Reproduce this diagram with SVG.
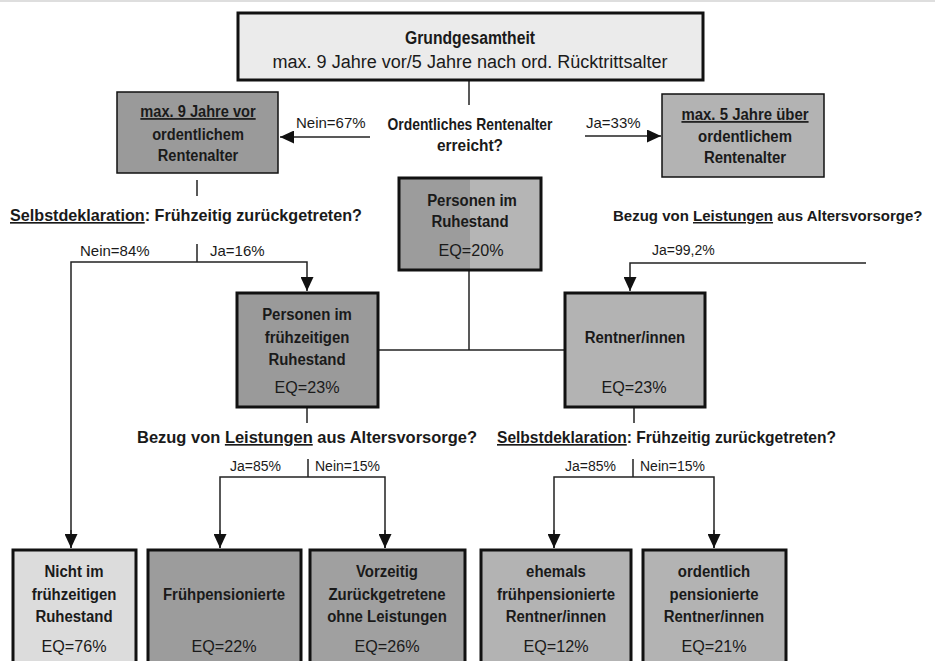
<svg xmlns="http://www.w3.org/2000/svg" width="935" height="661" viewBox="0 0 935 661">
<style>
  text { font-family: "Liberation Sans", Arial, sans-serif; fill: #1a1a1a; }
  .b { font-weight: bold; font-size: 17px; text-anchor: middle; }
  .q { font-weight: bold; font-size: 16.5px; }
  .q15 { font-weight: bold; font-size: 15px; }
  .eq { font-size: 17px; text-anchor: middle; }
  .lbl { font-size: 15px; }
  .sm { font-size: 14px; }
  .box { stroke: #111; stroke-width: 3; }
  .thin { stroke: #111; stroke-width: 1.5; }
  .c { fill: none; stroke: #222; stroke-width: 1.5; }
  .u { text-decoration: underline; }
</style>
<defs>
  <marker id="ah" viewBox="0 0 14 13" refX="14" refY="6.5" markerWidth="14" markerHeight="13" orient="auto" markerUnits="userSpaceOnUse">
    <path d="M0,0 L14,6.5 L0,13 z" fill="#111"/>
  </marker>
  <linearGradient id="split" x1="0" y1="0" x2="1" y2="0">
    <stop offset="0" stop-color="#9c9c9c"/>
    <stop offset="0.5" stop-color="#9c9c9c"/>
    <stop offset="0.5" stop-color="#b5b5b5"/>
    <stop offset="1" stop-color="#b5b5b5"/>
  </linearGradient>
</defs>

<rect x="0" y="0" width="935" height="2" fill="#dedede"/>

<g id="connectors">
  <line class="c" x1="469" y1="80" x2="469" y2="105"/>
  <line class="c" x1="370" y1="137" x2="280" y2="137" marker-end="url(#ah)"/>
  <line class="c" x1="585" y1="136" x2="661" y2="136" marker-end="url(#ah)"/>
  <line class="c" x1="197" y1="180" x2="197" y2="196"/>
  <line class="c" x1="197" y1="244" x2="197" y2="262"/>
  <path class="c" d="M71,548 V262 H307 V291" marker-end="url(#ah)"/>
  <line class="c" x1="71" y1="530" x2="71" y2="548" marker-end="url(#ah)"/>
  <path class="c" d="M866,263 H630 V291" marker-end="url(#ah)"/>
  <line class="c" x1="469" y1="270" x2="469" y2="350"/>
  <line class="c" x1="378" y1="350" x2="565" y2="350"/>
  <line class="c" x1="307" y1="407" x2="307" y2="423"/>
  <line class="c" x1="308" y1="459" x2="308" y2="477"/>
  <path class="c" d="M220,548 V477 H385 V548"/>
  <line class="c" x1="220" y1="530" x2="220" y2="548" marker-end="url(#ah)"/>
  <line class="c" x1="385" y1="530" x2="385" y2="548" marker-end="url(#ah)"/>
  <line class="c" x1="634" y1="407" x2="634" y2="423"/>
  <line class="c" x1="633" y1="459" x2="633" y2="477"/>
  <path class="c" d="M554,548 V477 H714 V548"/>
  <line class="c" x1="554" y1="530" x2="554" y2="548" marker-end="url(#ah)"/>
  <line class="c" x1="714" y1="530" x2="714" y2="548" marker-end="url(#ah)"/>
</g>

<g id="labels">
  <text class="lbl" x="296" y="128">Nein=67%</text>
  <text class="lbl" x="586" y="128">Ja=33%</text>
  <text class="q" x="470" y="130" text-anchor="middle" textLength="165" lengthAdjust="spacingAndGlyphs">Ordentliches Rentenalter</text>
  <text class="q" x="470" y="151" text-anchor="middle" textLength="66" lengthAdjust="spacingAndGlyphs">erreicht?</text>
  <text class="q" x="10" y="221" textLength="352" lengthAdjust="spacingAndGlyphs"><tspan class="u">Selbstdeklaration</tspan>: Frühzeitig zurückgetreten?</text>
  <text class="q15" x="613" y="221">Bezug von <tspan class="u">Leistungen</tspan> aus Altersvorsorge?</text>
  <text class="lbl" x="80" y="256">Nein=84%</text>
  <text class="lbl" x="210" y="256">Ja=16%</text>
  <text class="sm" x="652" y="255">Ja=99,2%</text>
  <text class="q" x="137" y="443" textLength="340" lengthAdjust="spacingAndGlyphs">Bezug von <tspan class="u">Leistungen</tspan> aus Altersvorsorge?</text>
  <text class="q" x="497" y="443" textLength="339" lengthAdjust="spacingAndGlyphs"><tspan class="u">Selbstdeklaration</tspan>: Frühzeitig zurückgetreten?</text>
  <text class="sm" x="230" y="471">Ja=85%</text>
  <text class="sm" x="315" y="471">Nein=15%</text>
  <text class="sm" x="565" y="471">Ja=85%</text>
  <text class="sm" x="640" y="471">Nein=15%</text>
</g>

<g id="grundgesamtheit">
  <rect class="box" x="238" y="13" width="465" height="67" fill="#ebebeb"/>
  <text font-weight="bold" font-size="18" x="470" y="44" text-anchor="middle" textLength="130" lengthAdjust="spacingAndGlyphs">Grundgesamtheit</text>
  <text font-size="18" x="470" y="68" text-anchor="middle" textLength="395" lengthAdjust="spacingAndGlyphs">max. 9 Jahre vor/5 Jahre nach ord. Rücktrittsalter</text>
</g>

<g id="max9">
  <rect class="thin" x="117" y="92" width="161" height="81" fill="#9a9a9a"/>
  <text class="b" transform="translate(198 117) scale(0.86 1)"><tspan class="u">max. 9 Jahre vor</tspan></text>
  <text class="b" transform="translate(198 140) scale(0.86 1)">ordentlichem</text>
  <text class="b" transform="translate(198 161) scale(0.86 1)">Rentenalter</text>
</g>

<g id="max5">
  <rect class="thin" x="662" y="94" width="162" height="83" fill="#b3b3b3"/>
  <text class="b" transform="translate(745 120) scale(0.88 1)"><tspan class="u">max. 5 Jahre über</tspan></text>
  <text class="b" transform="translate(745 142) scale(0.88 1)">ordentlichem</text>
  <text class="b" transform="translate(745 163) scale(0.88 1)">Rentenalter</text>
</g>

<g id="ruhestand">
  <rect class="box" x="399" y="178" width="142" height="92" fill="url(#split)"/>
  <text class="b" transform="translate(472 206) scale(0.88 1)">Personen im</text>
  <text class="b" transform="translate(470 227) scale(0.88 1)">Ruhestand</text>
  <text class="eq" transform="translate(471 256) scale(0.95 1)">EQ=20%</text>
</g>

<g id="fruehzeitig">
  <rect class="box" x="237" y="293" width="141" height="114" fill="#9a9a9a"/>
  <text class="b" transform="translate(307 320) scale(0.88 1)">Personen im</text>
  <text class="b" transform="translate(307 343) scale(0.88 1)">frühzeitigen</text>
  <text class="b" transform="translate(307 365) scale(0.88 1)">Ruhestand</text>
  <text class="eq" transform="translate(307 393) scale(0.95 1)">EQ=23%</text>
</g>

<g id="rentner">
  <rect class="box" x="565" y="293" width="140" height="114" fill="#b3b3b3"/>
  <text class="b" transform="translate(635 343) scale(0.88 1)">Rentner/innen</text>
  <text class="eq" transform="translate(634 393) scale(0.95 1)">EQ=23%</text>
</g>

<g id="nicht">
  <rect class="box" x="13" y="550" width="123" height="115" fill="#dcdcdc"/>
  <text class="b" transform="translate(74 577) scale(0.88 1)">Nicht im</text>
  <text class="b" transform="translate(74 600) scale(0.88 1)">frühzeitigen</text>
  <text class="b" transform="translate(74 622) scale(0.88 1)">Ruhestand</text>
  <text class="eq" transform="translate(74 652) scale(0.95 1)">EQ=76%</text>
</g>

<g id="fruehpensionierte">
  <rect class="box" x="148" y="550" width="153" height="115" fill="#9c9c9c"/>
  <text class="b" transform="translate(224 600) scale(0.88 1)">Frühpensionierte</text>
  <text class="eq" transform="translate(224 652) scale(0.95 1)">EQ=22%</text>
</g>

<g id="vorzeitig">
  <rect class="box" x="310" y="550" width="155" height="115" fill="#a0a0a0"/>
  <text class="b" transform="translate(387 577) scale(0.88 1)">Vorzeitig</text>
  <text class="b" transform="translate(387 600) scale(0.88 1)">Zurückgetretene</text>
  <text class="b" transform="translate(387 622) scale(0.88 1)">ohne Leistungen</text>
  <text class="eq" transform="translate(387 652) scale(0.95 1)">EQ=26%</text>
</g>

<g id="ehemals">
  <rect class="box" x="481" y="550" width="150" height="115" fill="#b3b3b3"/>
  <text class="b" transform="translate(556 577) scale(0.88 1)">ehemals</text>
  <text class="b" transform="translate(556 600) scale(0.88 1)">frühpensionierte</text>
  <text class="b" transform="translate(556 622) scale(0.88 1)">Rentner/innen</text>
  <text class="eq" transform="translate(556 652) scale(0.95 1)">EQ=12%</text>
</g>

<g id="ordentlich">
  <rect class="box" x="643" y="550" width="143" height="115" fill="#b3b3b3"/>
  <text class="b" transform="translate(714 577) scale(0.88 1)">ordentlich</text>
  <text class="b" transform="translate(714 600) scale(0.88 1)">pensionierte</text>
  <text class="b" transform="translate(714 622) scale(0.88 1)">Rentner/innen</text>
  <text class="eq" transform="translate(714 652) scale(0.95 1)">EQ=21%</text>
</g>
</svg>
